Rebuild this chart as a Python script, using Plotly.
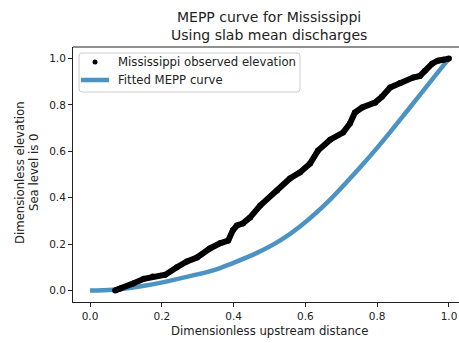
import plotly.graph_objects as go

# Observed longitudinal profile (dimensionless distance vs elevation)
obs_x = [0.070, 0.085, 0.120, 0.150, 0.175, 0.210, 0.242, 0.270, 0.298, 0.334,
         0.362, 0.385, 0.398, 0.409, 0.426, 0.446, 0.474, 0.521, 0.557, 0.585,
         0.613, 0.635, 0.669, 0.705, 0.724, 0.738, 0.758, 0.794, 0.813, 0.836,
         0.864, 0.900, 0.919, 0.933, 0.953, 0.969, 0.985, 1.000]
obs_y = [0.000, 0.008, 0.030, 0.050, 0.060, 0.068, 0.100, 0.125, 0.142, 0.181,
         0.203, 0.215, 0.259, 0.280, 0.289, 0.315, 0.366, 0.431, 0.483, 0.509,
         0.547, 0.603, 0.650, 0.681, 0.720, 0.767, 0.789, 0.810, 0.835, 0.875,
         0.895, 0.918, 0.925, 0.948, 0.978, 0.991, 0.995, 1.000]

# Fitted MEPP curve
fit_x = [0.000, 0.064, 0.159, 0.251, 0.343, 0.398, 0.465, 0.529, 0.585, 0.669,
         0.752, 0.808, 0.891, 0.975, 1.000]
fit_y = [0.000, 0.003, 0.022, 0.052, 0.086, 0.118, 0.162, 0.215, 0.276, 0.392,
         0.530, 0.630, 0.789, 0.952, 1.000]

x_ticks = [0.0, 0.2, 0.4, 0.6, 0.8, 1.0]
y_ticks = [0.0, 0.2, 0.4, 0.6, 0.8, 1.0]

legend_labels = ["Mississippi observed elevation", "Fitted MEPP curve"]

FONT = "DejaVu Sans"
TXT = "#222222"
FIT_COLOR = "rgba(31,119,180,0.8)"

# plot-area geometry in pixels (used for placing the hand-drawn legend and labels)
W, H = 459, 343
L, R, T, B = 73, 0, 47, 41
PW, PH = W - L - R, H - T - B


def px(xp):
    return (xp - L) / PW


def py(yp):
    return (H - B - yp) / PH


fig = go.Figure()

fig.add_trace(go.Scatter(
    x=fit_x, y=fit_y, mode="lines", name=legend_labels[1], showlegend=False,
    line=dict(color=FIT_COLOR, width=4.5, shape="spline"),
))
fig.add_trace(go.Scatter(
    x=obs_x, y=obs_y, mode="lines+markers", name=legend_labels[0], showlegend=False,
    line=dict(color="black", width=6),
    marker=dict(color="black", size=6),
))

axis_common = dict(
    showgrid=False, zeroline=False, showline=True, linecolor="#222222",
    linewidth=1, ticks="outside", ticklen=4, tickwidth=1, tickcolor="#222222",
    tickfont=dict(size=10.5, color=TXT),
)

fig.update_layout(
    width=W, height=H,
    margin=dict(l=L, r=R, t=T, b=B),
    paper_bgcolor="white", plot_bgcolor="white",
    font=dict(family=FONT, size=11.7, color=TXT),
    showlegend=False,
    xaxis=dict(range=[-0.0474, 1.0279], tickvals=x_ticks,
               ticktext=[f"{v:.1f}" for v in x_ticks], **axis_common),
    yaxis=dict(range=[-0.05, 1.05], tickvals=y_ticks,
               ticktext=[f"{v:.1f}" for v in y_ticks], **axis_common),
)

# top spine
fig.add_shape(type="line", xref="paper", yref="paper", x0=0, x1=1, y0=1, y1=1,
              line=dict(color="#222222", width=1))

# legend frame with rounded corners
x0, x1, y0, y1, r = px(79), px(300), py(92), py(53), 3
rx, ry = r / PW, r / PH
path = (f"M {x0+rx},{y0} L {x1-rx},{y0} Q {x1},{y0} {x1},{y0+ry} "
        f"L {x1},{y1-ry} Q {x1},{y1} {x1-rx},{y1} L {x0+rx},{y1} "
        f"Q {x0},{y1} {x0},{y1-ry} L {x0},{y0+ry} Q {x0},{y0} {x0+rx},{y0} Z")
fig.add_shape(type="path", xref="paper", yref="paper", path=path,
              fillcolor="rgba(255,255,255,0.8)", line=dict(color="#cccccc", width=1))
# legend handles
fig.add_shape(type="circle", xref="paper", yref="paper",
              x0=px(92.5), x1=px(97.5), y0=py(64.5), y1=py(59.5),
              fillcolor="black", line=dict(color="black", width=0))
fig.add_shape(type="line", xref="paper", yref="paper",
              x0=px(81), x1=px(109), y0=py(80), y1=py(80),
              line=dict(color=FIT_COLOR, width=4.5))
for label, yy in zip(legend_labels, [62, 80]):
    fig.add_annotation(text=label, xref="paper", yref="paper", x=px(116), y=py(yy),
                       showarrow=False, xanchor="left", yanchor="middle",
                       font=dict(size=11.7))

# titles and axis labels
cx = px(269)
fig.add_annotation(text="MEPP curve for Mississippi", xref="paper", yref="paper",
                   x=cx, y=py(17), showarrow=False,
                   xanchor="center", yanchor="middle", font=dict(size=14))
fig.add_annotation(text="Using slab mean discharges", xref="paper", yref="paper",
                   x=cx, y=py(35), showarrow=False,
                   xanchor="center", yanchor="middle", font=dict(size=14))
fig.add_annotation(text="Dimensionless upstream distance", xref="paper", yref="paper",
                   x=cx, y=py(331), showarrow=False,
                   xanchor="center", yanchor="middle", font=dict(size=11.7))
fig.add_annotation(text="Dimensionless elevation", xref="paper", yref="paper",
                   x=px(20), y=py(173), showarrow=False,
                   textangle=-90, xanchor="center", yanchor="middle", font=dict(size=11.7))
fig.add_annotation(text="Sea level is 0", xref="paper", yref="paper",
                   x=px(34), y=py(173), showarrow=False,
                   textangle=-90, xanchor="center", yanchor="middle", font=dict(size=11.7))

fig.write_html("out.html")
